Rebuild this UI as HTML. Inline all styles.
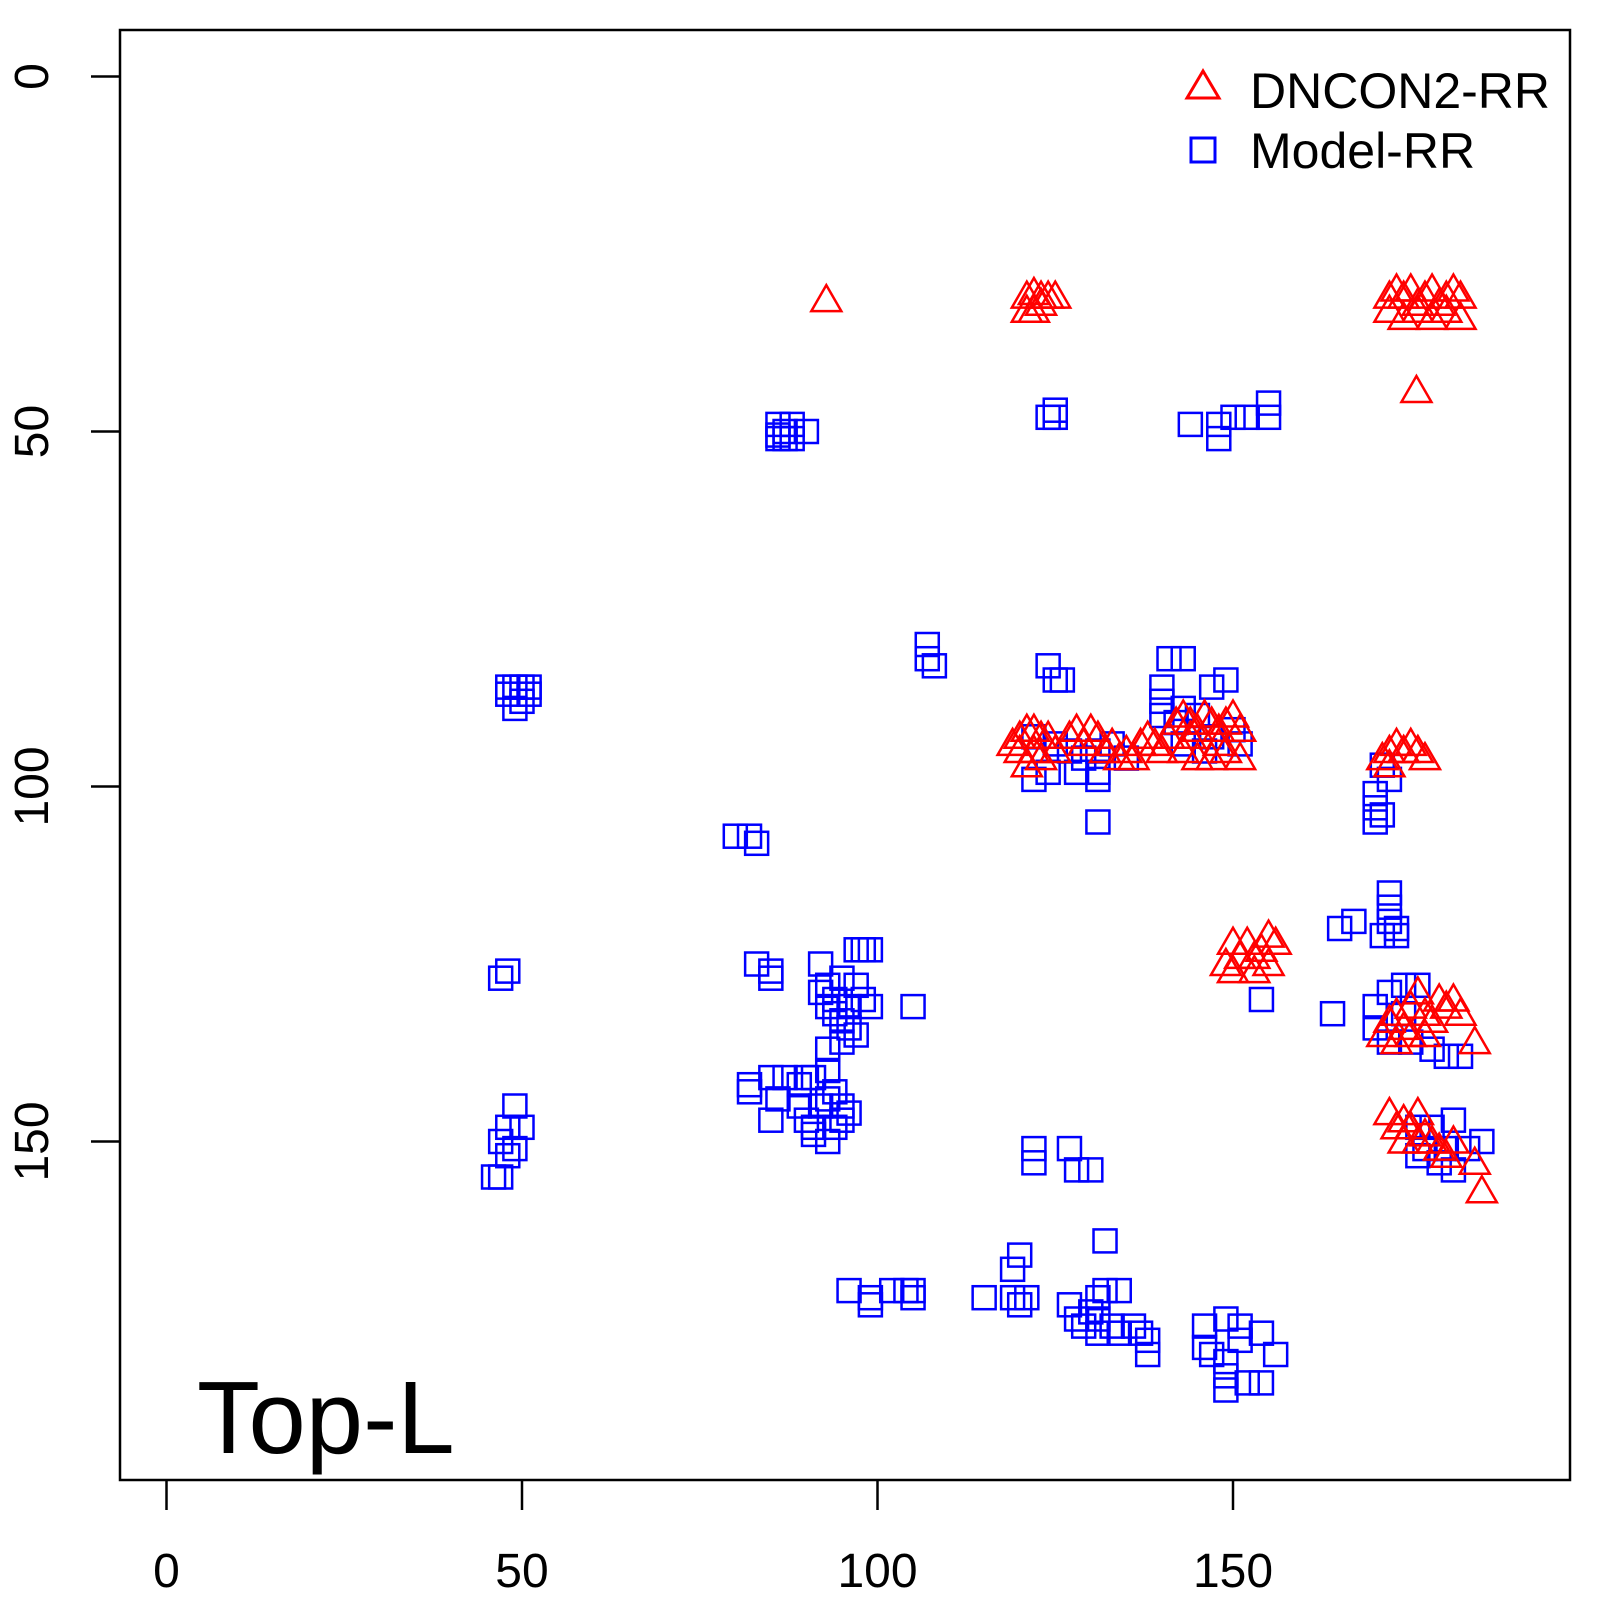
<!DOCTYPE html>
<html><head><meta charset="utf-8"><style>
html,body{margin:0;padding:0;background:#fff}
svg{display:block}
text{font-family:"Liberation Sans",sans-serif}
</style></head><body>
<svg id="chart" width="1600" height="1600" viewBox="0 0 1600 1600">
<rect x="120" y="30" width="1450" height="1450" fill="none" stroke="#000" stroke-width="2.5"/>
<g id="axes"></g>
<g id="marks"></g>
<g>
<polygon points="1203,71 1187,98 1219,98" fill="none" stroke="#f00" stroke-width="3"/>
<text x="1250" y="108" font-size="50">DNCON2-RR</text>
<rect x="1191" y="138" width="24" height="24" fill="none" stroke="#00f" stroke-width="3"/>
<text x="1250" y="168" font-size="50">Model-RR</text>
</g>
<text x="197" y="1453" font-size="103">Top-L</text>
</svg>
<script>
const xTicks=[0,50,100,150];
const yTicks=[0,50,100,150];
const triX=[92.8,121,122,123,124,125,121,122,123,172,173,174,175,176,177,178,179,180,181,182,172,174,176,178,180,182,175.8,
119,120,121,122,123,124,120,122,121,123,125,127,128,129,130,131,132,133,134,135,136,137,138,139,140,141,142,143,144,145,146,147,148,149,150,151,143,145,147,149,151,144,148,
171,172,173,174,175,176,177,172,
149,150,151,152,153,154,155,156,150,153,155,
171,172,173,174,175,176,177,178,179,180,181,182,184,175,177,173,
172,173,174,175,176,177,178,179,180,181,184,185,174,176];
const triY=[31.5,31,30.5,31,31,31,33,33,32,31,30,31,30,32,31,30,32,31,30,31,33,34,33,34,33,34,44.3,
94,93,92,92,93,93,95,95,97,96,95,93,92,94,92,93,95,94,96,95,96,94,93,94,95,93,91,90,91,92,90,91,92,91,90,92,95,96,96,95,96,93,94,
96,95,94,95,94,95,96,97,
125,122,124,122,124,123,121,122,126,126,125,
135,133,132,134,131,129,132,133,130,131,130,132,136,135,135,136,
146,148,147,148,146,149,150,151,152,150,153,157,150,150];
const sqX=[86,86,87,88,88,90,86,87,124,125,125,144,148,148,150,152,155,155,
48,49,50,51,48,50,49,51,107,107,108,124,125,126,141,143,140,140,143,147,149,
122,125,127,129,131,133,135,124,128,131,122,131,131,140,142,145,147,150,151,143,146,
171,172,170,170,170,171,80,82,83,172,172,172,173,171,173,165,167,48,47,83,85,85,
92,93,95,97,98,99,92,94,96,98,99,93,95,96,97,95,94,97,105,154,164,
170,172,174,176,170,172,175,178,180,182,174,
82,82,85,87,86,85,89,90,91,89,90,91,92,93,94,95,94,93,95,96,93,93,91,
49,48,50,47,49,48,46,47,
176,178,181,177,180,183,185,179,181,176,
122,122,127,128,130,132,120,119,
96,99,99,102,104,105,105,115,119,120,121,127,128,129,131,132,134,131,133,134,136,137,138,138,131,130,
146,149,151,154,156,146,149,149,149,151,152,154,147];
const sqY=[49,51,50,49,51,50,50.5,51,48,48,47,49,49,51,48,48,46,48,
86,86,86,86,87,88,89,87,80,82,83,83,85,85,82,82,86,88,89,86,85,
93,94,95,96,95,94,96,98,98,98,99,99,105,90,91,90,93,92,94,94,95,
97,99,101,103,105,104,107,107,108,115,117,119,120,121,121,120,119,126,127,125,126,127,
125,128,127,123,123,123,129,130,131,130,131,131,133,134,135,136,132,128,131,130,132,
131,129,128,128,134,136,136,137,138,138,132,
142,143,141,141,144,147,142,141,141,145,147,148,145,144,143,145,148,150,147,146,137,140,149,
145,148,148,150,151,152,155,155,
148,148,147,151,151,151,150,153,154,152,
151,153,151,154,154,164,166,168,
171,172,173,171,171,171,172,172,172,173,172,173,175,176,172,171,171,175,176,177,176,177,178,180,177,174,
176,175,176,177,180,179,181,183,185,178,184,184,180];
const NS='http://www.w3.org/2000/svg';
function sx(v){return 166.5+7.11*v;}
function sy(v){return 76.5+7.10*v;}
const axes=document.getElementById('axes');
const marks=document.getElementById('marks');
xTicks.forEach(t=>{
  const l=document.createElementNS(NS,'line');
  l.setAttribute('x1',sx(t));l.setAttribute('x2',sx(t));l.setAttribute('y1',1480);l.setAttribute('y2',1510);
  l.setAttribute('stroke','#000');l.setAttribute('stroke-width','2.5');
  
  
  axes.appendChild(l);
  const tx=document.createElementNS(NS,'text');
  tx.setAttribute('x',sx(t));tx.setAttribute('y',1587);tx.setAttribute('font-size','48');tx.setAttribute('text-anchor','middle');
  tx.textContent=t;
  
  
  axes.appendChild(tx);
});
yTicks.forEach(t=>{
  const l=document.createElementNS(NS,'line');
  l.setAttribute('x1',91);l.setAttribute('x2',120);l.setAttribute('y1',sy(t));l.setAttribute('y2',sy(t));
  l.setAttribute('stroke','#000');l.setAttribute('stroke-width','2.5');
  
  
  axes.appendChild(l);
  const tx=document.createElementNS(NS,'text');
  tx.setAttribute('x',0);tx.setAttribute('y',0);tx.setAttribute('font-size','48');tx.setAttribute('text-anchor','middle');
  tx.setAttribute('transform','translate(48,'+sy(t)+') rotate(-90)');
  tx.textContent=t;
  
  
  axes.appendChild(tx);
});
for(let i=0;i<sqX.length;i++){
  const r=document.createElementNS(NS,'rect');
  const cx=sx(sqX[i]),cy=sy(sqY[i]);
  r.setAttribute('x',cx-11.5);r.setAttribute('y',cy-11.5);r.setAttribute('width',23);r.setAttribute('height',23);
  r.setAttribute('fill','none');r.setAttribute('stroke','#00f');r.setAttribute('stroke-width','2.5');
  
  
  marks.appendChild(r);
}
for(let i=0;i<triX.length;i++){
  const p=document.createElementNS(NS,'polygon');
  const cx=sx(triX[i]),cy=sy(triY[i]);
  p.setAttribute('points',cx+','+(cy-15)+' '+(cx-15)+','+(cy+11)+' '+(cx+15)+','+(cy+11));
  p.setAttribute('fill','none');p.setAttribute('stroke','#f00');p.setAttribute('stroke-width','2.5');
  
  
  marks.appendChild(p);
}
</script>
</body></html>
